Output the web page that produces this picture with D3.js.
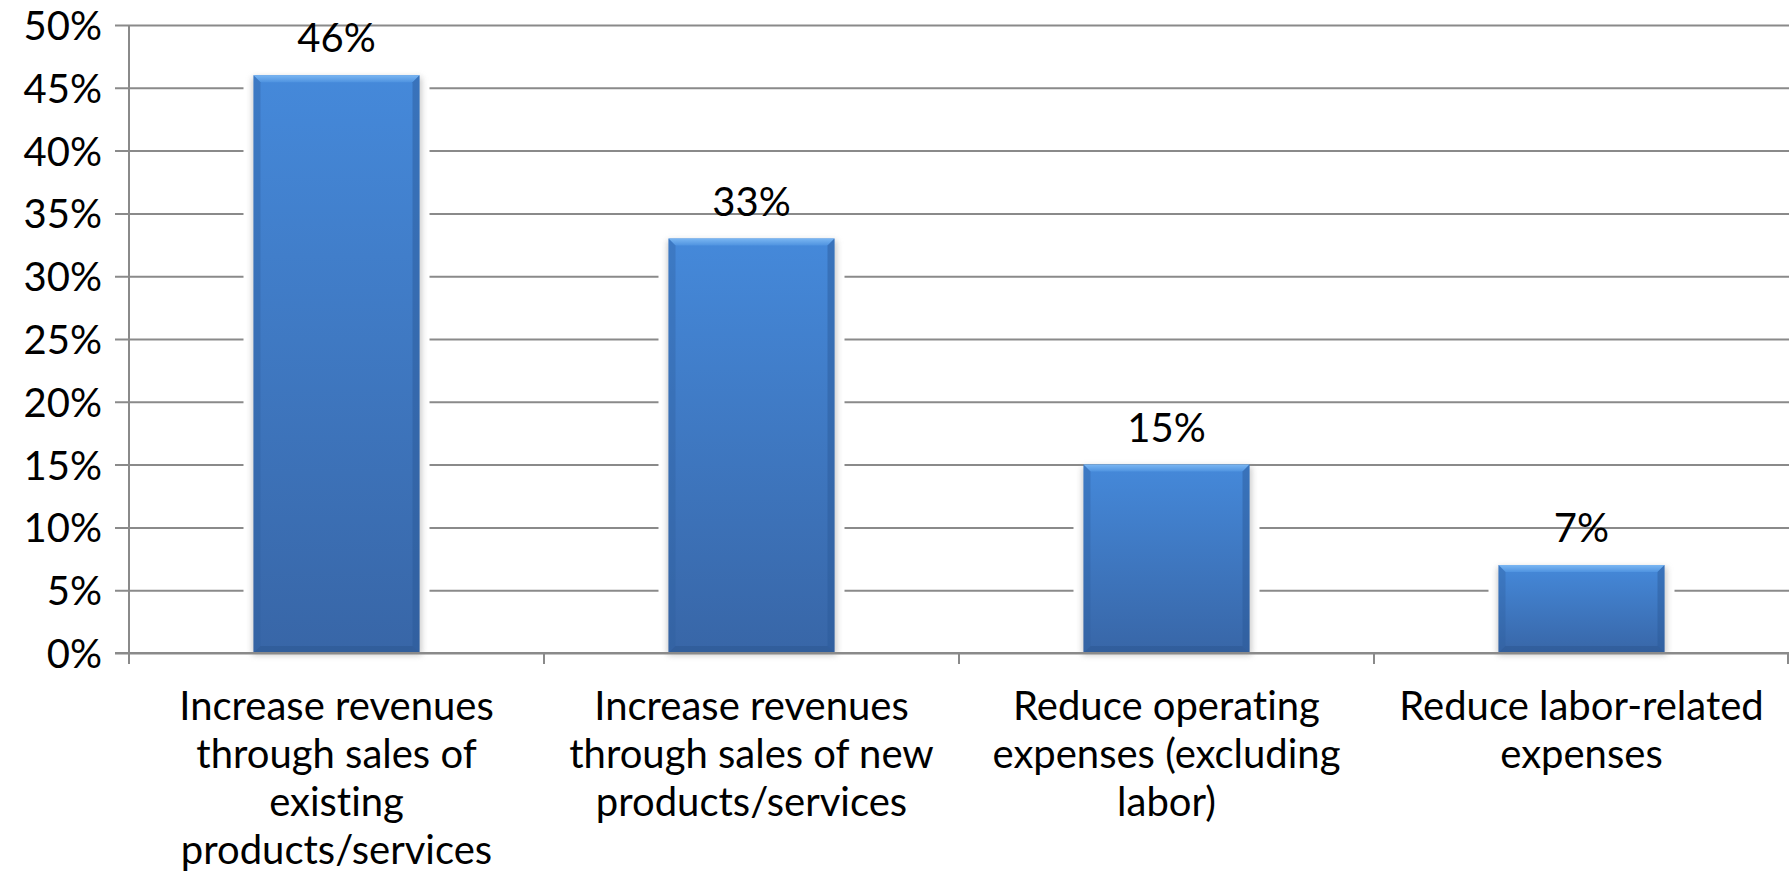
<!DOCTYPE html>
<html>
<head>
<meta charset="utf-8">
<script src="https://cdn.jsdelivr.net/npm/d3@7"></script>
<style>
  html, body { margin: 0; padding: 0; background: #fff; }
  svg { display: block; font-family: Lato, "Open Sans", sans-serif; font-variant-ligatures: none; }
  svg text { font-family: Lato, "Open Sans", sans-serif; }
</style>
</head>
<body>
<svg id="chart" width="1790" height="883"></svg>
<script>
// Survey results: primary objective, share of respondents
const categories = [
  "Increase revenues\nthrough sales of\nexisting\nproducts/services",
  "Increase revenues\nthrough sales of new\nproducts/services",
  "Reduce operating\nexpenses (excluding\nlabor)",
  "Reduce labor-related\nexpenses"
];
const values = [0.46, 0.33, 0.15, 0.07];
const valueLabels = ["46%", "33%", "15%", "7%"];
const yTicks = [0, 0.05, 0.10, 0.15, 0.20, 0.25, 0.30, 0.35, 0.40, 0.45, 0.50];

const svg = d3.select("#chart");
const margin = { left: 129, right: 1, top: 25, bottom: 230 };
const W = 1790, H = 883;
const plotW = W - margin.left - margin.right;
const plotH = H - margin.top - margin.bottom;

const x = d3.scaleBand().domain(categories).range([0, plotW]).paddingInner(0.6).paddingOuter(0.3);
const xBoundary = d3.scaleBand().domain(categories).range([0, plotW]).padding(0);
const y = d3.scaleLinear().domain([0, 0.5]).range([plotH, 0]);

const defs = svg.append("defs");
const grad = defs.append("linearGradient").attr("id", "barFill").attr("x1", 0).attr("y1", 0).attr("x2", 0).attr("y2", 1);
grad.append("stop").attr("offset", "0%").attr("stop-color", "#4589da");
grad.append("stop").attr("offset", "100%").attr("stop-color", "#3866a7");
const topGrad = defs.append("linearGradient").attr("id", "bevelTop").attr("x1", 0).attr("y1", 0).attr("x2", 0).attr("y2", 1);
topGrad.append("stop").attr("offset", "0%").attr("stop-color", "#7ab6f2");
topGrad.append("stop").attr("offset", "100%").attr("stop-color", "#4f93e0");
const blur = defs.append("filter").attr("id", "soft").attr("x", "-20%").attr("y", "-20%").attr("width", "140%").attr("height", "140%");
blur.append("feGaussianBlur").attr("stdDeviation", 3);

const g = svg.append("g").attr("transform", `translate(${margin.left},${margin.top})`);
const gridColor = "#8a8a8a";

// horizontal gridlines with left tick stubs
const yAxis = d3.axisLeft(y).tickValues(yTicks).tickSize(-plotW).tickPadding(27)
  .tickFormat(d => Math.round(d * 100) + "%");
const yg = g.append("g").call(yAxis).attr("font-family", null).attr("font-size", null);
yg.select(".domain").remove();
yg.selectAll(".tick line").attr("stroke", gridColor).attr("stroke-width", 2).attr("x1", -14);
yg.selectAll(".tick text").attr("fill", "#000").style("font-size", "40px").attr("dy", "0.36em");

// bars
const bars = g.append("g").selectAll("g.bar").data(categories).join("g").attr("class", "bar");
bars.each(function (c, i) {
  const sel = d3.select(this);
  const bx = x(c), bw = x.bandwidth();
  const by = y(values[i]), bh = plotH - by;
  const b = 7;
  // white halo that breaks the gridlines around each bar
  sel.append("rect").attr("x", bx - 10).attr("y", by + 2).attr("width", bw + 20).attr("height", bh - 2)
    .attr("fill", "#fff");
  // soft shadow
  sel.append("rect").attr("x", bx - 1).attr("y", by + 2).attr("width", bw + 3).attr("height", bh)
    .attr("fill", "#9a9a9a").attr("opacity", 0.55).attr("filter", "url(#soft)");
  sel.append("rect").attr("x", bx).attr("y", by).attr("width", bw).attr("height", bh).attr("fill", "url(#barFill)");
  // bevel: top, left, right, bottom facets
  sel.append("path").attr("d", `M${bx},${by}L${bx + bw},${by}L${bx + bw - b},${by + b}L${bx + b},${by + b}Z`)
    .attr("fill", "url(#bevelTop)");
  sel.append("path").attr("d", `M${bx},${by}L${bx + b},${by + b}L${bx + b},${by + bh - b}L${bx},${by + bh}Z`)
    .attr("fill", "#2f5f9e").attr("opacity", 0.35);
  sel.append("path").attr("d", `M${bx + bw},${by}L${bx + bw - b},${by + b}L${bx + bw - b},${by + bh - b}L${bx + bw},${by + bh}Z`)
    .attr("fill", "#2a5896").attr("opacity", 0.45);
  sel.append("path").attr("d", `M${bx},${by + bh}L${bx + b},${by + bh - b}L${bx + bw - b},${by + bh - b}L${bx + bw},${by + bh}Z`)
    .attr("fill", "#2b558f").attr("opacity", 0.45);
});

// value labels
g.append("g").selectAll("text").data(categories).join("text")
  .attr("x", c => x(c) + x.bandwidth() / 2)
  .attr("y", (c, i) => y(values[i]) - 23)
  .attr("text-anchor", "middle").style("font-size", "40px").attr("fill", "#000")
  .text((c, i) => valueLabels[i]);

// y-axis line and x-axis line with category boundary ticks
g.append("line").attr("x1", 0).attr("x2", 0).attr("y1", 0).attr("y2", plotH + 11)
  .attr("stroke", gridColor).attr("stroke-width", 2);
g.append("line").attr("x1", -14).attr("x2", plotW).attr("y1", plotH).attr("y2", plotH)
  .attr("stroke", gridColor).attr("stroke-width", 2);
const bounds = categories.map(c => xBoundary(c) + xBoundary.bandwidth());
g.append("g").selectAll("line").data(bounds).join("line")
  .attr("x1", d => Math.min(d, plotW - 1)).attr("x2", d => Math.min(d, plotW - 1))
  .attr("y1", plotH).attr("y2", plotH + 11)
  .attr("stroke", gridColor).attr("stroke-width", 2);

// category labels, one tspan per line
const labels = g.append("g").selectAll("text").data(categories).join("text")
  .attr("text-anchor", "middle").style("font-size", "40px").attr("fill", "#000")
  .attr("transform", c => `translate(${xBoundary(c) + xBoundary.bandwidth() / 2},${plotH + 67})`);
labels.selectAll("tspan").data(c => c.split("\n")).join("tspan")
  .attr("x", 0).attr("dy", (d, i) => i === 0 ? 0 : 48).text(d => d);
</script>
</body>
</html>
